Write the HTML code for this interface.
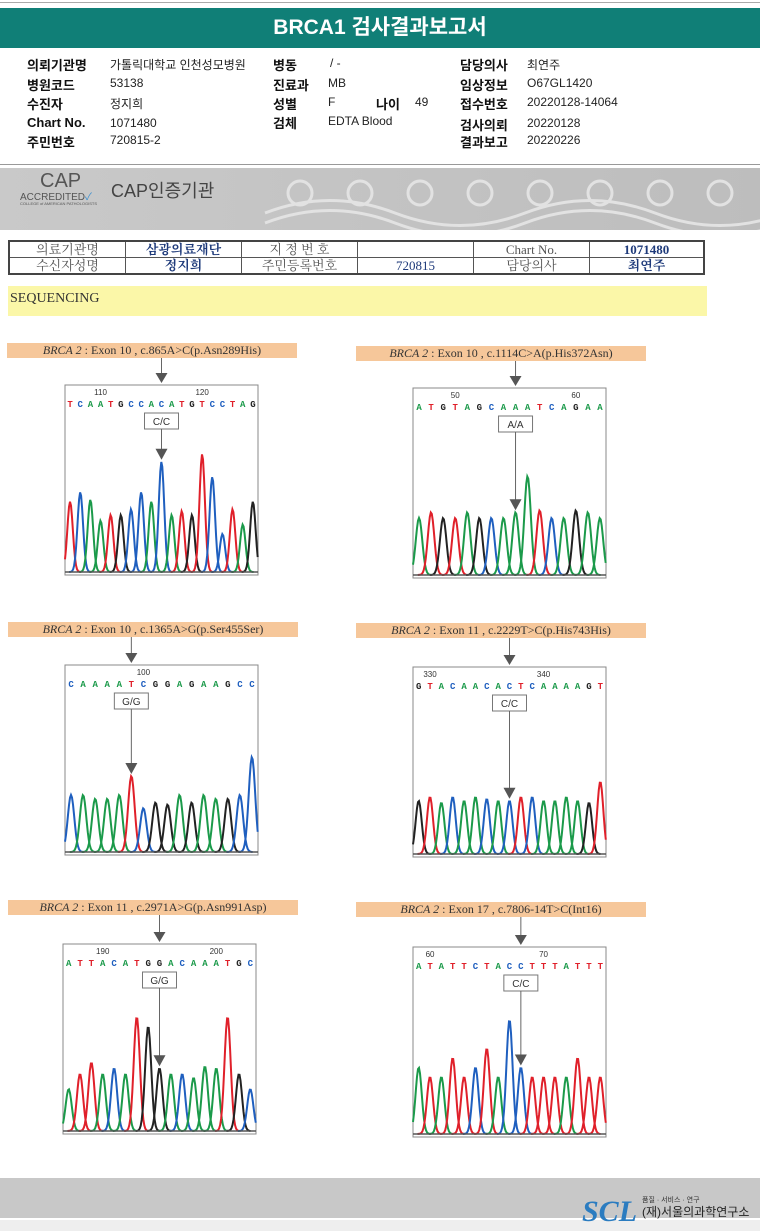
<!DOCTYPE html>
<html><head><meta charset="utf-8"><style>
body{margin:0;width:760px;height:1231px;position:relative;background:#fff;font-family:"Liberation Sans","Noto Sans CJK KR",sans-serif;overflow:hidden}
.a{position:absolute;white-space:nowrap}
.k{font-weight:bold;font-size:13px;color:#111}
.v{font-size:12px;color:#222}
.lab{position:absolute;height:15px;background:#f6c79a;font-family:"Liberation Serif","Noto Serif CJK SC",serif;font-size:12px;color:#333;text-align:center;line-height:15px}
table{border-collapse:collapse;font-family:"Liberation Serif","Noto Serif CJK SC",serif;font-size:13px}
td{border:1px solid #555;height:15px;padding:0;text-align:center;line-height:15px}
.b{color:#1e3a7a;font-weight:bold}
</style></head><body>
<div class="a" style="left:0;top:2px;width:760px;height:1px;background:#aaa"></div>
<div class="a" style="left:0;top:8px;width:760px;height:40px;background:#107f77;color:#fff;font-weight:bold;font-size:21px;text-align:center;line-height:40px">BRCA1 검사결과보고서</div>
<div>
<div class="a k" style="left:27px;top:55px">의뢰기관명</div><div class="a v" style="left:110px;top:56px">가톨릭대학교 인천성모병원</div>
<div class="a k" style="left:27px;top:75px">병원코드</div><div class="a v" style="left:110px;top:76px">53138</div>
<div class="a k" style="left:27px;top:94px">수진자</div><div class="a v" style="left:110px;top:95px">정지희</div>
<div class="a k" style="left:27px;top:115px">Chart No.</div><div class="a v" style="left:110px;top:116px">1071480</div>
<div class="a k" style="left:27px;top:132px">주민번호</div><div class="a v" style="left:110px;top:133px">720815-2</div>
<div class="a k" style="left:273px;top:55px">병동</div><div class="a v" style="left:330px;top:56px">/ -</div>
<div class="a k" style="left:273px;top:75px">진료과</div><div class="a v" style="left:328px;top:76px">MB</div>
<div class="a k" style="left:273px;top:94px">성별</div><div class="a v" style="left:328px;top:95px">F</div>
<div class="a k" style="left:376px;top:94px">나이</div><div class="a v" style="left:415px;top:95px">49</div>
<div class="a k" style="left:273px;top:113px">검체</div><div class="a v" style="left:328px;top:114px">EDTA Blood</div>
<div class="a k" style="left:460px;top:55px">담당의사</div><div class="a v" style="left:527px;top:56px">최연주</div>
<div class="a k" style="left:460px;top:75px">임상정보</div><div class="a v" style="left:527px;top:76px">O67GL1420</div>
<div class="a k" style="left:460px;top:94px">접수번호</div><div class="a v" style="left:527px;top:95px">20220128-14064</div>
<div class="a k" style="left:460px;top:115px">검사의뢰</div><div class="a v" style="left:527px;top:116px">20220128</div>
<div class="a k" style="left:460px;top:132px">결과보고</div><div class="a v" style="left:527px;top:133px">20220226</div>
</div>
<div class="a" style="left:0;top:164px;width:760px;height:1px;background:#999"></div>
<div class="a" style="left:0;top:168px;width:760px;height:62px;background:linear-gradient(90deg,#c9c9c9,#bdbdbd)">
<svg width="760" height="62" style="position:absolute;left:0;top:0"><g fill="none" stroke="#e2e2e2" stroke-width="3">
<circle cx="300" cy="25" r="12"/><circle cx="360" cy="25" r="12"/><circle cx="420" cy="25" r="12"/><circle cx="480" cy="25" r="12"/><circle cx="540" cy="25" r="12"/><circle cx="600" cy="25" r="12"/><circle cx="660" cy="25" r="12"/><circle cx="720" cy="25" r="12"/>
<path d="M265 45 Q330 20 395 45 T525 45 T655 45 T785 45"/><path d="M265 55 Q330 30 395 55 T525 55 T655 55 T785 55"/></g></svg>
<div class="a" style="left:40px;top:2px;font-size:20px;color:#555">CAP</div>
<div class="a" style="left:20px;top:20px;font-size:10px;color:#555">ACCREDITED<span style="color:#3a8fd0">✓</span></div>
<div class="a" style="left:20px;top:33px;font-size:4px;color:#555">COLLEGE of AMERICAN PATHOLOGISTS</div>
<div class="a" style="left:111px;top:9px;font-size:18px;color:#444">CAP인증기관</div>
</div>
<table class="a" style="left:8px;top:240px;width:697px;border:2px solid #444">
<tr><td style="width:115px;color:#555">의료기관명</td><td class="b" style="width:115px">삼광의료재단</td><td style="width:115px;color:#555">지 정 번 호</td><td style="width:115px"></td><td style="width:115px;color:#555">Chart No.</td><td class="b">1071480</td></tr>
<tr><td style="color:#555">수신자성명</td><td class="b">정지희</td><td style="color:#555">주민등록번호</td><td style="color:#1e3a7a">720815</td><td style="color:#555">담당의사</td><td class="b">최연주</td></tr>
</table>
<div class="a" style="left:8px;top:286px;width:697px;height:30px;background:#fbf7a8;font-family:'Liberation Serif',serif;font-size:14px;line-height:26px;color:#333;padding-left:2px">SEQUENCING</div>
<div class="a" style="left:0;top:1178px;width:760px;height:40px;background:#c8c8c8"></div>
<div class="a" style="left:0;top:1220px;width:760px;height:11px;background:#eee"></div>
<div class="a" style="left:582px;top:1195px;font-family:'Liberation Serif',serif;font-style:italic;font-weight:bold;font-size:30px;color:#2b7cc0">SCL</div>
<div class="a" style="left:642px;top:1195px;font-size:7px;color:#333">품질 · 서비스 · 연구</div>
<div class="a" style="left:642px;top:1203px;font-size:12px;color:#222">(재)서울의과학연구소</div>
<div id="panels"></div>
<script>
const titles=["Exon 10 , c.865A>C(p.Asn289His)","Exon 10 , c.1114C>A(p.His372Asn)","Exon 10 , c.1365A>G(p.Ser455Ser)","Exon 11 , c.2229T>C(p.His743His)","Exon 11 , c.2971A>G(p.Asn991Asp)","Exon 17 , c.7806-14T>C(Int16)"];
const genotypes=["C/C","A/A","G/G","C/C","G/G","C/C"];
const sequences=["TCAATGCCACATGTCCTAG","ATGTAGCAAATCAGAA","CAAAATCGGAGAAGCC","GTACAACACTCAAAAGT","ATTACATGGACAAATGC","ATATTCTACCTTTATTT"];
const tickLabels=[["110","120"],["50","60"],["100"],["330","340"],["190","200"],["60","70"]];
const tickIdx=[[3,13],[3,13],[6],[1,11],[3,13],[1,11]];
const variantIdx=[9,8,5,8,8,9];
const heights=[
[0.37,0.42,0.38,0.27,0.3,0.3,0.33,0.42,0.37,0.58,0.3,0.32,0.3,0.62,0.5,0.2,0.33,0.25,0.37],
[0.3,0.33,0.3,0.3,0.33,0.3,0.3,0.3,0.33,0.52,0.34,0.3,0.3,0.34,0.33,0.3],
[0.3,0.3,0.28,0.28,0.3,0.4,0.23,0.26,0.25,0.3,0.26,0.3,0.28,0.28,0.3,0.5],
[0.28,0.3,0.27,0.3,0.28,0.3,0.29,0.28,0.28,0.3,0.3,0.28,0.28,0.3,0.28,0.27,0.38],
[0.22,0.3,0.36,0.3,0.33,0.3,0.6,0.55,0.33,0.3,0.3,0.28,0.34,0.33,0.6,0.3,0.22],
[0.35,0.3,0.3,0.4,0.3,0.35,0.45,0.3,0.6,0.35,0.3,0.3,0.3,0.3,0.4,0.3,0.3]];
const layout=[[7,343,65,385],[356,346,413,388],[8,622,65,665],[356,623,413,667],[8,900,63,944],[356,902,413,947]];
const col={A:"#1b9a4a",C:"#1f5fbf",G:"#222",T:"#e0202a"};
const root=document.getElementById('panels');
titles.forEach((t,p)=>{
  const [lx,ly,cx,cy]=layout[p];const W=193,H=190;
  const lab=document.createElement('div');lab.className='lab';
  
  
  lab.style.left=lx+'px';lab.style.top=ly+'px';lab.style.width='290px';
  lab.innerHTML='<i>BRCA 2</i> : '+t;root.appendChild(lab);
  const seq=sequences[p],n=seq.length,step=W/n;
  const xOf=i=>(i+0.5)*step;
  const vx=xOf(variantIdx[p]);
  const svg=document.createElementNS('http://www.w3.org/2000/svg','svg');
  
  
  svg.setAttribute('width',W+2);svg.setAttribute('height',H+40);
  svg.style.position='absolute';svg.style.left=(cx-1)+'px';svg.style.top=(cy-30)+'px';
  let s='<g transform="translate(1,30)">';
  s+='<line x1="'+vx+'" y1="-'+(cy-ly-15)+'" x2="'+vx+'" y2="-10" stroke="#666"/><polygon points="'+(vx-6)+',-12 '+(vx+6)+',-12 '+vx+',-2" fill="#555"/>';
  s+='<rect x="0" y="0" width="'+W+'" height="'+H+'" fill="#fff" stroke="#888"/>';
  tickIdx[p].forEach((ti,k)=>{s+='<text x="'+xOf(ti)+'" y="10" font-size="8" text-anchor="middle" fill="#333" font-family="Liberation Sans">'+tickLabels[p][k]+'</text>';});
  for(let i=0;i<n;i++)s+='<text x="'+xOf(i)+'" y="22" font-size="9" font-weight="bold" text-anchor="middle" fill="'+col[seq[i]]+'" font-family="Liberation Mono">'+seq[i]+'</text>';
  s+='<rect x="'+(vx-17)+'" y="28" width="34" height="16" fill="#fff" stroke="#777"/><text x="'+vx+'" y="40" font-size="10" text-anchor="middle" fill="#333" font-family="Liberation Sans">'+genotypes[p]+'</text>';
  const top=H-heights[p][variantIdx[p]]*H;
  s+='<line x1="'+vx+'" y1="44" x2="'+vx+'" y2="'+(top-14)+'" stroke="#666"/><polygon points="'+(vx-6)+','+(top-16)+' '+(vx+6)+','+(top-16)+' '+vx+','+(top-5)+'" fill="#555"/>';
  const base=H-3,sig=step*0.27;
  for(let i=0;i<n;i++){
    const c=xOf(i),h=heights[p][i]*H;let d='';
    for(let x=Math.max(0,c-step*1.1);x<=Math.min(W,c+step*1.1);x+=1){const y=base-h*Math.exp(-((x-c)*(x-c))/(2*sig*sig));d+=(d?'L':'M')+x.toFixed(1)+' '+y.toFixed(1);}
    s+='<path d="'+d+'" fill="none" stroke="'+col[seq[i]]+'" stroke-width="2"/>';
  }
  s+='<line x1="0" y1="'+base+'" x2="'+W+'" y2="'+base+'" stroke="#555" stroke-width="1.5"/></g>';
  svg.innerHTML=s;root.appendChild(svg);
});
</script>
</body></html>
